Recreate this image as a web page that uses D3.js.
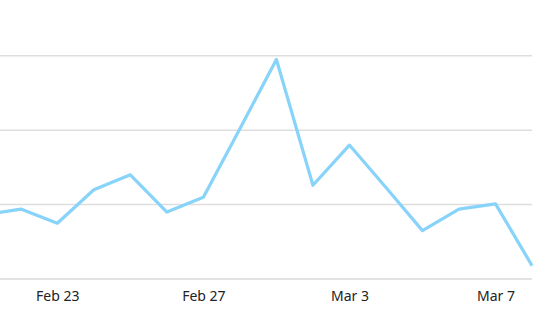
<!DOCTYPE html>
<html>
<head>
<meta charset="utf-8">
<script src="https://cdn.jsdelivr.net/npm/d3@7"></script>
<style>
  body { margin: 0; background: #fff; }
  .x-axis text { font-family: "Noto Sans", "Open Sans", sans-serif; font-size: 14px; fill: #222; }
</style>
</head>
<body>
<div id="chart"></div>
<script>
// daily values, Feb 21 .. Mar 8
const dates = ["2021-02-21", "2021-02-22", "2021-02-23", "2021-02-24", "2021-02-25", "2021-02-26",
    "2021-02-27", "2021-02-28", "2021-03-01", "2021-03-02", "2021-03-03", "2021-03-04",
    "2021-03-05", "2021-03-06", "2021-03-07", "2021-03-08"];
const values = [8.6, 9.4, 7.5, 12.0, 14.0, 9.0, 11.0, 20.2, 29.5, 12.6, 18.0, 12.3, 6.5, 9.4, 10.1, 1.8];
const yTicks = [0, 10, 20, 30];
const xTicks = ["2021-02-23", "2021-02-27", "2021-03-03", "2021-03-07"];

const width = 553, height = 334;
const parse = d3.timeParse("%Y-%m-%d");

// the chart is cut off at its left edge, so the first day sits left of 0
const margin = {top: 55.8, right: 21, bottom: 55, left: -15.7};

const svg = d3.select("#chart").append("svg")
    .attr("width", width)
    .attr("height", height);

const x = d3.scaleTime()
    .domain([parse("2021-02-21"), parse("2021-03-08")])
    .range([margin.left, width - margin.right]);

const y = d3.scaleLinear()
    .domain([0, 30])
    .range([height - margin.bottom, margin.top]);

const data = dates.map((d, i) => ({date: parse(d), value: values[i]}));

// gridlines
svg.append("g")
    .attr("class", "grid")
    .selectAll("line")
    .data(yTicks)
    .enter().append("line")
    .attr("x1", 0)
    .attr("x2", width - margin.right)
    .attr("y1", d => y(d))
    .attr("y2", d => y(d))
    .attr("stroke", d => d === 0 ? "#d9d9d9" : "#dedede")
    .attr("stroke-width", 1.5);

// x axis labels
const xAxis = d3.axisBottom(x)
    .tickValues(xTicks.map(parse))
    .tickFormat(d3.timeFormat("%b %-d"))
    .tickSize(0)
    .tickPadding(12);

svg.append("g")
    .attr("class", "x-axis")
    .attr("transform", "translate(0," + y(0) + ")")
    .call(xAxis)
    .call(g => g.select(".domain").remove());

// line
const line = d3.line()
    .x(d => x(d.date))
    .y(d => y(d.value));

svg.append("path")
    .datum(data)
    .attr("fill", "none")
    .attr("stroke", "#87d3fa")
    .attr("stroke-width", 3.2)
    .attr("stroke-linejoin", "round")
    .attr("d", line);
</script>
</body>
</html>
